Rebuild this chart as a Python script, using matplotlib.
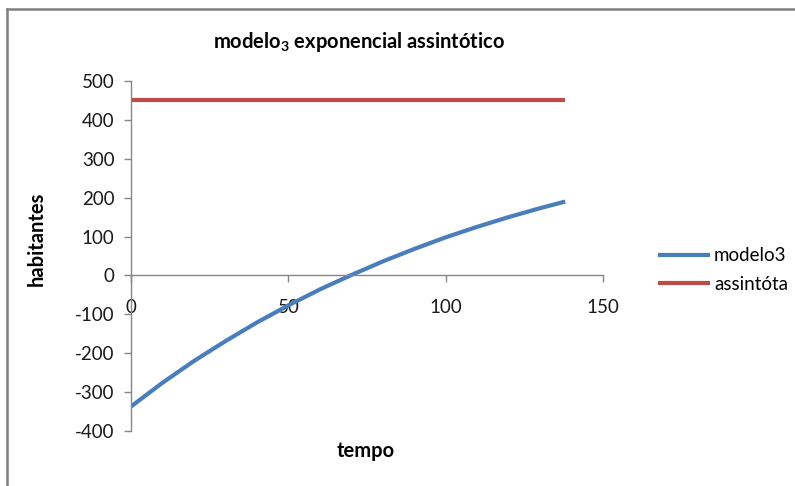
import numpy as np
from matplotlib import pyplot as plt

plt.rcParams['font.family'] = ['Lato', 'DejaVu Sans']
plt.rcParams['axes.unicode_minus'] = False
plt.rcParams['mathtext.fontset'] = 'custom'
plt.rcParams['mathtext.rm'] = 'Lato'
plt.rcParams['mathtext.bf'] = 'Lato:bold'

# tempo / habitantes
tempo = [0, 10, 20, 30, 40, 50, 60, 70, 80, 90, 100, 110, 120, 130, 138]
modelo3 = [-337, -276, -220, -169, -121, -77, -36, 1, 36, 68, 98, 125, 150, 173, 190]
assintota = [452] * len(tempo)

fig = plt.figure(figsize=(7.95, 4.86), dpi=100)
ax = fig.add_axes([0.1648, 0.1132, 0.5937, 0.7201])

ax.plot(tempo, modelo3, color="#4A7EBB", lw=3, solid_capstyle="butt", label="modelo3")
ax.plot(tempo, assintota, color="#BE4B48", lw=3, solid_capstyle="butt", label="assintóta")

ax.set_xlim(0, 150)
ax.set_ylim(-400, 500)
ax.set_xticks([0, 50, 100, 150])
ax.set_yticks(np.arange(-400, 501, 100))

for s in ["top", "right"]:
    ax.spines[s].set_visible(False)
ax.spines["bottom"].set_position(("data", 0))
for s in ["left", "bottom"]:
    ax.spines[s].set_color("#868686")
    ax.spines[s].set_linewidth(1)
ax.tick_params(axis="both", colors="#868686", labelcolor="#1a1a1a", labelsize=13.5,
               length=5, width=1, direction="out")
ax.tick_params(axis="x", pad=12)
ax.tick_params(axis="y", pad=7)

ax.set_xlabel("tempo", fontsize=14.5, fontweight="bold")
ax.xaxis.set_label_coords(0.498, -0.028)
ax.set_ylabel("habitantes", fontsize=14.5, fontweight="bold")
ax.yaxis.set_label_coords(-0.178, 0.55)

fig.text(0.452, 0.914, r"modelo$_\mathbf{3}$ exponencial assintótico", ha="center", va="center",
         fontsize=14.5, fontweight="bold")

ax.legend(loc="center left", bbox_to_anchor=(1.08, 0.46), frameon=False, fontsize=13.5,
          handlelength=2.8, handletextpad=0.2, labelspacing=0.6)

# chart area border
fig.add_artist(plt.Line2D([0.0094, 0.0094], [0, 0.982], color="#808080", lw=1.8))
fig.add_artist(plt.Line2D([0.0094, 1], [0.982, 0.982], color="#808080", lw=1.8))

fig.savefig("out.png", dpi=100)
